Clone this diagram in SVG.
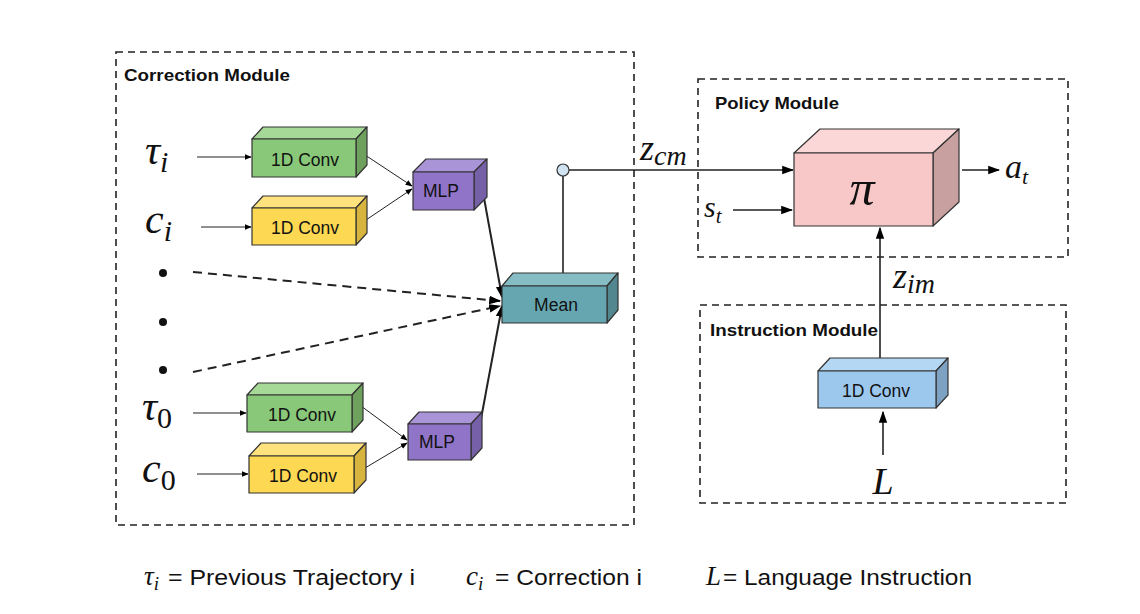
<svg xmlns="http://www.w3.org/2000/svg" width="1140" height="614" viewBox="0 0 1140 614">
<defs>
<marker id="ah" viewBox="0 0 10 10" refX="9" refY="5" markerWidth="7" markerHeight="7" orient="auto" markerUnits="userSpaceOnUse"><path d="M0,1 L10,5 L0,9 z" fill="#000"/></marker>
<marker id="ahL" viewBox="0 0 10 10" refX="9" refY="5" markerWidth="12" markerHeight="12" orient="auto" markerUnits="userSpaceOnUse"><path d="M0,1.5 L10,5 L0,8.5 z" fill="#000"/></marker>
</defs>
<style>
.mod{fill:none;stroke:#222;stroke-width:1.6;stroke-dasharray:7,5}
.mt{font-family:"Liberation Sans",Arial,sans-serif;font-weight:bold;font-size:17px;fill:#111}
.bt{font-family:"Liberation Sans",Arial,sans-serif;font-size:17.5px;fill:#111;text-anchor:middle}
.math{font-family:"Liberation Serif","DejaVu Serif",serif;font-style:italic;fill:#111}
.leg{font-family:"Liberation Sans",Arial,sans-serif;font-size:22px;fill:#111}
.edge{stroke:#222;fill:none}
.bx{stroke:#333;stroke-width:1.2;stroke-linejoin:round}
.gF{fill:#88c878}.gT{fill:#a6d898}.gS{fill:#6ea05e}
.yF{fill:#fdd852}.yT{fill:#fee27e}.yS{fill:#d6b43e}
.pF{fill:#9074c8}.pT{fill:#a994d8}.pS{fill:#7660a8}
.tF{fill:#65a6b0}.tT{fill:#86bcc3}.tS{fill:#52878f}
.kF{fill:#f8c8c8}.kT{fill:#fbd7d7}.kS{fill:#c9a0a0}
.bF{fill:#9cc8ee}.bT{fill:#b4d8f4}.bS{fill:#7ea3c2}
</style>

<g id="correction-module">
<rect class="mod" x="116" y="52" width="518" height="473"/>
<text class="mt" x="124" y="81" textLength="166" lengthAdjust="spacingAndGlyphs">Correction Module</text>
</g>
<g id="policy-module">
<rect class="mod" x="698" y="79" width="370" height="178"/>
<text class="mt" x="715" y="109" textLength="124" lengthAdjust="spacingAndGlyphs">Policy Module</text>
</g>
<g id="instruction-module">
<rect class="mod" x="700" y="305" width="366" height="198"/>
<text class="mt" x="710" y="336" textLength="168" lengthAdjust="spacingAndGlyphs">Instruction Module</text>
</g>

<g id="edges">
<line class="edge" x1="197" y1="157" x2="251" y2="157" stroke-width="1.2" marker-end="url(#ah)"/>
<line class="edge" x1="201" y1="227" x2="251" y2="227" stroke-width="1.2" marker-end="url(#ah)"/>
<line class="edge" x1="193" y1="413" x2="246" y2="413" stroke-width="1.2" marker-end="url(#ah)"/>
<line class="edge" x1="197" y1="474" x2="248" y2="474" stroke-width="1.2" marker-end="url(#ah)"/>
<line class="edge" x1="362" y1="153" x2="412" y2="186" stroke-width="1" marker-end="url(#ah)"/>
<line class="edge" x1="363" y1="222" x2="412" y2="189" stroke-width="1" marker-end="url(#ah)"/>
<line class="edge" x1="357" y1="403" x2="407" y2="440" stroke-width="1" marker-end="url(#ah)"/>
<line class="edge" x1="365" y1="468" x2="407" y2="443" stroke-width="1" marker-end="url(#ah)"/>
<line class="edge" x1="482" y1="187" x2="502" y2="297" stroke-width="2" marker-end="url(#ahL)"/>
<line class="edge" x1="478" y1="435" x2="502" y2="306" stroke-width="2" marker-end="url(#ahL)"/>
<line class="edge" x1="193" y1="272" x2="500" y2="301" stroke-width="2" stroke-dasharray="9,6" marker-end="url(#ahL)"/>
<line class="edge" x1="193" y1="372" x2="500" y2="306" stroke-width="2" stroke-dasharray="9,6" marker-end="url(#ahL)"/>
<line class="edge" x1="563" y1="280" x2="563" y2="176" stroke-width="1.6"/>
<line class="edge" x1="569" y1="170" x2="793" y2="170" stroke-width="1.6" marker-end="url(#ahL)"/>
<line class="edge" x1="733" y1="210" x2="792" y2="210" stroke-width="1.6" marker-end="url(#ahL)"/>
<line class="edge" x1="962" y1="170" x2="999" y2="170" stroke-width="1.6" marker-end="url(#ahL)"/>
<line class="edge" x1="880" y1="358" x2="880" y2="228" stroke-width="1.6" marker-end="url(#ahL)"/>
<line class="edge" x1="883" y1="455" x2="883" y2="412" stroke-width="1.6" marker-end="url(#ahL)"/>
</g>

<g id="conv-tau-i">
<path class="bx gT" d="M252,139 L263,127 L367,127 L356,139 z"/>
<path class="bx gS" d="M356,139 L367,127 L367,165 L356,177 z"/>
<rect class="bx gF" x="252" y="139" width="104" height="38"/>
<text class="bt" x="305" y="166">1D Conv</text>
</g>
<g id="conv-c-i">
<path class="bx yT" d="M252,208 L263,196 L367,196 L356,208 z"/>
<path class="bx yS" d="M356,208 L367,196 L367,233 L356,245 z"/>
<rect class="bx yF" x="252" y="208" width="104" height="37"/>
<text class="bt" x="305" y="234">1D Conv</text>
</g>
<g id="mlp-i">
<path class="bx pT" d="M413,172 L426,159 L487,159 L474,172 z"/>
<path class="bx pS" d="M474,172 L487,159 L487,197 L474,210 z"/>
<rect class="bx pF" x="413" y="172" width="61" height="38"/>
<text class="bt" x="441" y="197">MLP</text>
</g>
<g id="conv-tau-0">
<path class="bx gT" d="M247,395 L258,383 L363,383 L352,395 z"/>
<path class="bx gS" d="M352,395 L363,383 L363,420 L352,432 z"/>
<rect class="bx gF" x="247" y="395" width="105" height="37"/>
<text class="bt" x="302" y="421">1D Conv</text>
</g>
<g id="conv-c-0">
<path class="bx yT" d="M249,456 L261,443 L366,443 L354,456 z"/>
<path class="bx yS" d="M354,456 L366,443 L366,480 L354,493 z"/>
<rect class="bx yF" x="249" y="456" width="105" height="37"/>
<text class="bt" x="303" y="482">1D Conv</text>
</g>
<g id="mlp-0">
<path class="bx pT" d="M408,424 L419,412 L482,412 L471,424 z"/>
<path class="bx pS" d="M471,424 L482,412 L482,448 L471,460 z"/>
<rect class="bx pF" x="408" y="424" width="63" height="36"/>
<text class="bt" x="437" y="448">MLP</text>
</g>
<g id="mean">
<path class="bx tT" d="M502,286 L513,273 L618,273 L607,286 z"/>
<path class="bx tS" d="M607,286 L618,273 L618,310 L607,323 z"/>
<rect class="bx tF" x="502" y="286" width="105" height="37"/>
<text class="bt" x="556" y="311">Mean</text>
</g>
<g id="junction">
<circle cx="563" cy="170" r="6" fill="#cfe3f3" stroke="#333" stroke-width="1.2"/>
</g>
<g id="policy">
<path class="bx kT" d="M794,153 L820,129 L959,129 L933,153 z"/>
<path class="bx kS" d="M933,153 L959,129 L959,202 L933,226 z"/>
<rect class="bx kF" x="794" y="153" width="139" height="73"/>
<text class="math" x="862" y="205" font-size="50" text-anchor="middle">π</text>
</g>
<g id="conv-instruction">
<path class="bx bT" d="M818,371 L830,358 L948,358 L936,371 z"/>
<path class="bx bS" d="M936,371 L948,358 L948,395 L936,408 z"/>
<rect class="bx bF" x="818" y="371" width="118" height="37"/>
<text class="bt" x="876" y="397">1D Conv</text>
</g>

<g id="dots">
<circle cx="163" cy="273" r="4" fill="#111"/>
<circle cx="163" cy="322" r="4" fill="#111"/>
<circle cx="163" cy="370" r="4" fill="#111"/>
</g>

<g id="labels">
<text class="math" x="145" y="164" font-size="42">τ<tspan font-size="30" dy="8">i</tspan></text>
<text class="math" x="145" y="233" font-size="42">c<tspan font-size="30" dy="8">i</tspan></text>
<text class="math" x="142" y="420" font-size="42">τ<tspan font-size="30" dy="8" font-style="normal">0</tspan></text>
<text class="math" x="142" y="482" font-size="42">c<tspan font-size="30" dy="8" font-style="normal">0</tspan></text>
<text class="math" x="640" y="160" font-size="36">z<tspan font-size="28" dy="5">cm</tspan></text>
<text class="math" x="704" y="217" font-size="30">s<tspan font-size="21" dy="6">t</tspan></text>
<text class="math" x="1005" y="178" font-size="34">a<tspan font-size="22" dy="6">t</tspan></text>
<text class="math" x="893" y="288" font-size="36">z<tspan font-size="28" dy="5">im</tspan></text>
<text class="math" x="883" y="494" font-size="38" text-anchor="middle">L</text>
</g>

<g id="legend">
<text class="math" x="144" y="585" font-size="27">τ<tspan font-size="19" dy="5">i</tspan></text>
<text class="leg" x="168" y="585" textLength="247" lengthAdjust="spacingAndGlyphs">= Previous Trajectory i</text>
<text class="math" x="466" y="585" font-size="27">c<tspan font-size="19" dy="5">i</tspan></text>
<text class="leg" x="495" y="585" textLength="147" lengthAdjust="spacingAndGlyphs">= Correction i</text>
<text class="math" x="706" y="585" font-size="27">L</text>
<text class="leg" x="723" y="585" textLength="249" lengthAdjust="spacingAndGlyphs">= Language Instruction</text>
</g>
</svg>
